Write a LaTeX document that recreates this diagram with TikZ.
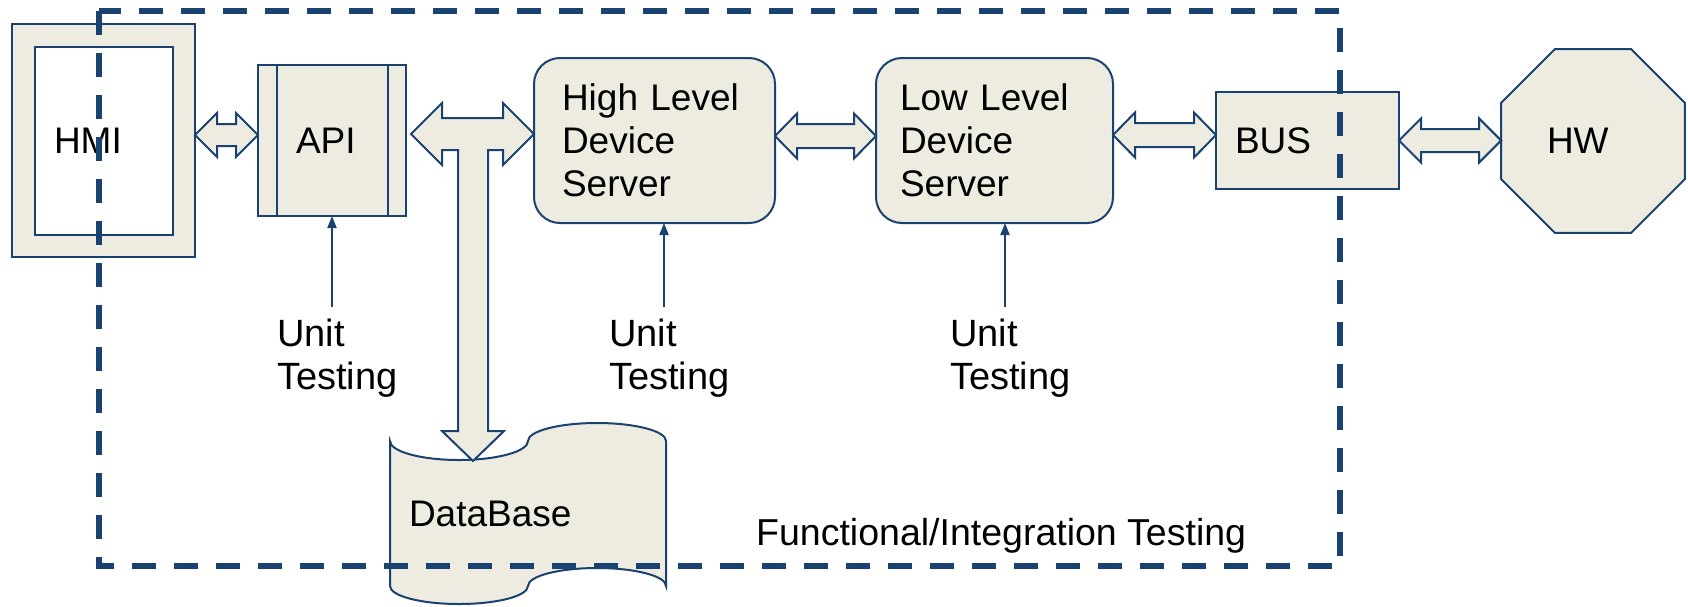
\documentclass[tikz,border=0pt]{standalone}
\usepackage{fontspec}
\setmainfont{Liberation Sans}
\usepackage{tikz}
\usetikzlibrary{calc, positioning, shapes.geometric}
\usetikzlibrary{arrows.meta}
\tikzset{>={Triangle[length=12pt,width=9pt]}}
\usepackage{xcolor}
\definecolor{lineblue}{RGB}{25,66,112}
\definecolor{boxfill}{RGB}{238,236,225}
\newcommand{\hdblarrow}[4]{\path[blockarrow] let \p1=(#1), \p2=(#2) in (\x1,\y1) -- (\x1+22pt,\y1+#4) -- (\x1+22pt,\y1+#3) -- (\x2-22pt,\y1+#3) -- (\x2-22pt,\y1+#4) -- (\x2,\y1) -- (\x2-22pt,\y1-#4) -- (\x2-22pt,\y1-#3) -- (\x1+22pt,\y1-#3) -- (\x1+22pt,\y1-#4) -- cycle;}

\begin{document}
\begin{tikzpicture}[x=1pt,y=-1pt,font=\fontsize{37}{43}\selectfont,
	unitbox/.style={draw=lineblue,line width=2pt,fill=boxfill,inner ysep=0pt,outer sep=0pt,align=left},
	blockarrow/.style={draw=lineblue,line width=2pt,fill=boxfill},
	testarrow/.style={draw=lineblue,line width=2pt,->},
	testlabel/.style={anchor=north west,inner sep=0pt,align=left,font=\fontsize{38}{43}\selectfont},
	testframe/.style={draw=lineblue,line width=5.5pt,dash pattern=on 24pt off 18pt}]
						\useasboundingbox (0,0) rectangle (1688,606);
						\node [unitbox, minimum width=183pt, minimum height=233pt, text width=99pt, inner xsep=42pt, path picture={\draw [lineblue, line width=2pt, fill=white] ([shift={(22.5pt,-22.5pt)}]path picture bounding box.north west) rectangle ([shift={(-22.5pt,22.5pt)}]path picture bounding box.south east);}] (hmi) at (103.5,140.5) {HMI};
						\node [unitbox, minimum width=148pt, minimum height=151pt, text width=72pt, inner xsep=38pt, path picture={\draw [lineblue, line width=2pt] ([xshift=18.5pt]path picture bounding box.north west) -- ([xshift=18.5pt]path picture bounding box.south west) ([xshift=-18.5pt]path picture bounding box.north east) -- ([xshift=-18.5pt]path picture bounding box.south east);}] (api) at (332,140.5) {API};
						\node [unitbox, rounded corners=26pt, minimum width=241pt, minimum height=165pt, text width=185pt, inner xsep=28pt] (hlds) at (654.5,140.5) {High Level\\Device\\Server};
						\node [unitbox, rounded corners=26pt, minimum width=237pt, minimum height=165pt, text width=189pt, inner xsep=24pt] (llds) at (994.5,140.5) {Low Level\\Device\\Server};
						\node [unitbox, minimum width=183pt, minimum height=97pt, text width=145pt, inner xsep=19pt] (bus) at (1307.5,140.5) {BUS};
						\node [unitbox, regular polygon, regular polygon sides=8, minimum size=199pt, inner xsep=0pt, text width=92pt] (hw) at (1593,141) {HW};
						\path [blockarrow] (390,441) .. controls (390,451.5) and (421,460) .. (459,460) .. controls (497,460) and (528,451.5) .. (528,441) .. controls (528,431) and (559,423) .. (597,423) .. controls (635,423) and (666,431) .. (666,441) -- (666,586) .. controls (666,576) and (635,568) .. (597,568) .. controls (559,568) and (528,576) .. (528,586) .. controls (528,596) and (497,604) .. (459,604) .. controls (421,604) and (390,596) .. (390,586) -- cycle;
						\node [unitbox, draw=none, fill=none, minimum width=276pt, minimum height=181pt, text width=238pt, inner xsep=19pt] (db) at (528,513.5) {DataBase};
						\coordinate (dbtip) at ([shift={(-55pt,-38pt)}]db.north);
						\hdblarrow{[yshift=5.5pt]hmi.east}{api.west}{11pt}{22pt}
						\hdblarrow{[yshift=4.5pt]hlds.east}{llds.west}{12pt}{22.5pt}
						\hdblarrow{[yshift=5.5pt]llds.east}{bus.west}{12pt}{22.5pt}
						\hdblarrow{bus.east}{hw.west}{11.5pt}{22pt}
						\path [blockarrow] let \p1=([shift={(5pt,6.5pt)}]api.east), \p2=([yshift=6.5pt]hlds.west), \p3=(dbtip) in (\x1,\y1) -- (\x1+31pt,\y1+31pt) -- (\x1+31pt,\y1+16pt) -- (\x2-31pt,\y1+16pt) -- (\x2-31pt,\y1+31pt) -- (\x2,\y1) -- (\x2-31pt,\y1-31pt) -- (\x2-31pt,\y1-16pt) -- (\x3+15pt,\y1-16pt) -- (\x3+15pt,\y3+30pt) -- (\x3+31pt,\y3+30pt) -- (\x3,\y3) -- (\x3-31pt,\y3+30pt) -- (\x3-15pt,\y3+30pt) -- (\x3-15pt,\y1-16pt) -- (\x1+31pt,\y1-16pt) -- (\x1+31pt,\y1-31pt) -- cycle;
						\node [testlabel] (ut1) at (277,319) {Unit\\Testing};
						\node [testlabel] (ut2) at (609,319) {Unit\\Testing};
						\node [testlabel] (ut3) at (950,319) {Unit\\Testing};
						\coordinate (ut1top) at ([shift={(55pt,12pt)}]ut1.north west);
						\coordinate (ut2top) at ([shift={(55pt,12pt)}]ut2.north west);
						\coordinate (ut3top) at ([shift={(55pt,12pt)}]ut3.north west);
						\draw [testarrow] (ut1top) -- (ut1top |- api.south);
						\draw [testarrow] (ut2top) -- (ut2top |- hlds.south);
						\draw [testarrow] (ut3top) -- (ut3top |- llds.south);
						\draw [testframe] (99,11) rectangle (1340,566);
						\node [anchor=base west, inner sep=0pt, font=\fontsize{37.5}{43}\selectfont] (fitlabel) at (756,545) {Functional/Integration Testing};
					\end{tikzpicture}
\end{document}
